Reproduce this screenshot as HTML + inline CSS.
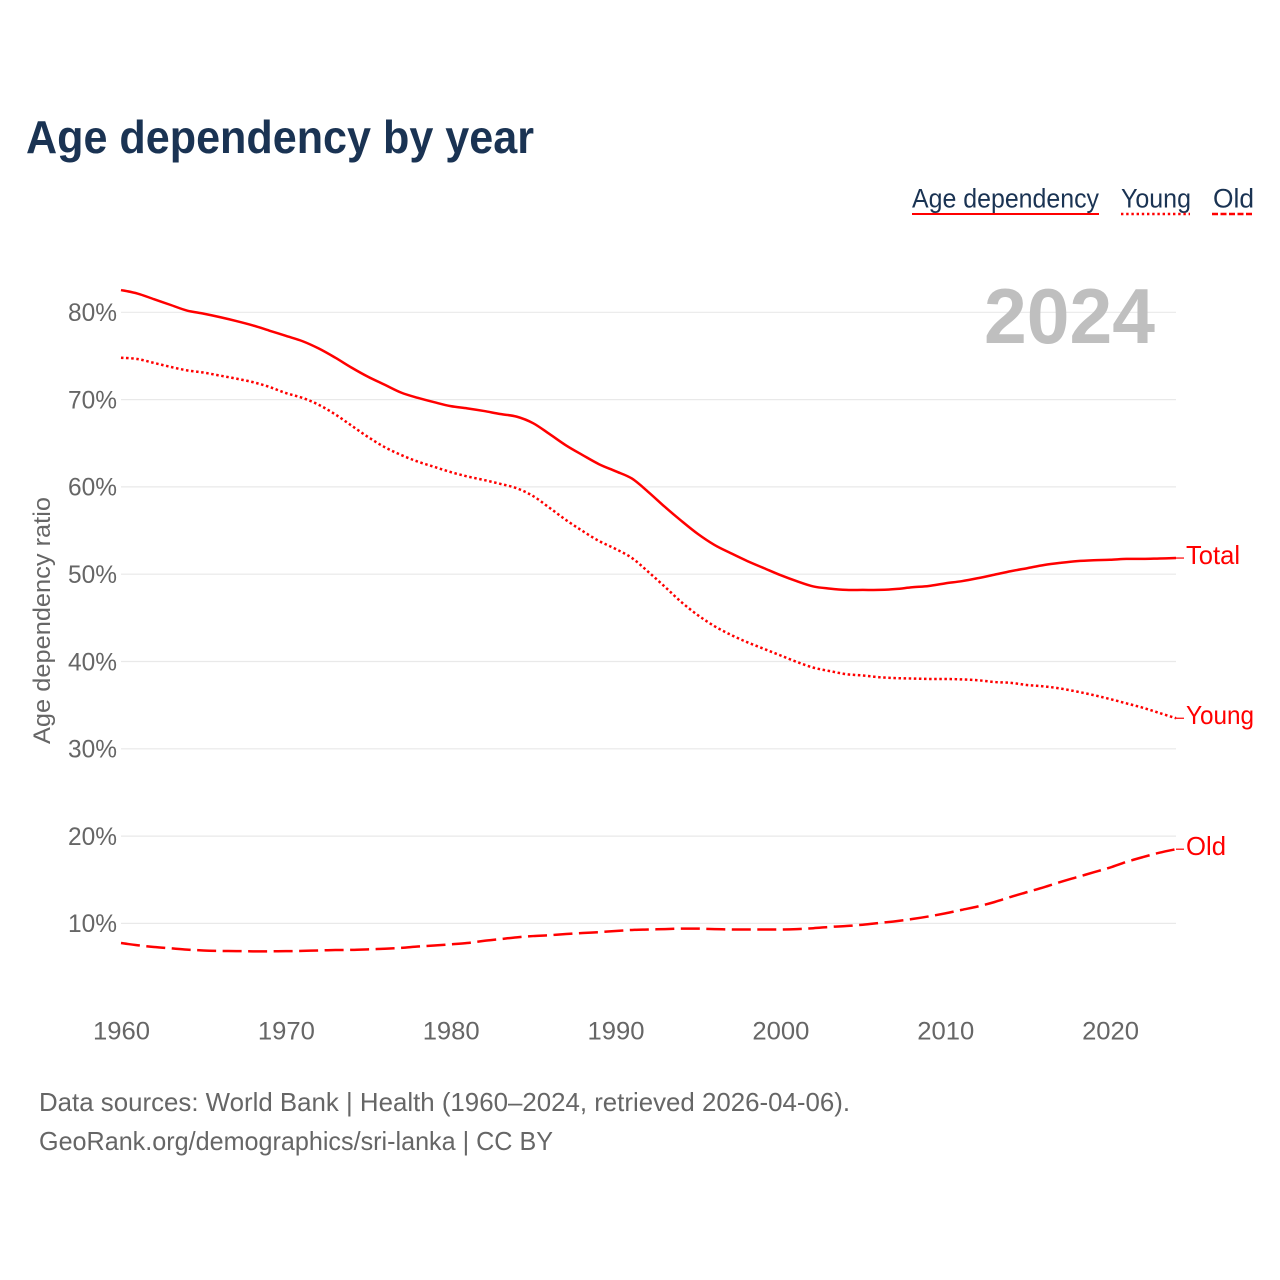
<!DOCTYPE html>
<html lang="en">
<head>
<meta charset="utf-8">
<title>Age dependency by year</title>
<style>
  html, body { margin: 0; padding: 0; background: #fff; }
  svg { display: block; font-family: "Liberation Sans", sans-serif; }
</style>
</head>
<body>
<svg id="chart" width="1280" height="1280" viewBox="0 0 1280 1280" xmlns="http://www.w3.org/2000/svg">
  <rect x="0" y="0" width="1280" height="1280" fill="#ffffff"/>
  <text x="26" y="153" font-size="46" font-weight="700" fill="#1a3353" textLength="508" lengthAdjust="spacingAndGlyphs">Age dependency by year</text>

  <g id="grid"></g>
  <text x="984" y="343" font-size="78" font-weight="700" fill="#bfbfbf" textLength="171" lengthAdjust="spacingAndGlyphs">2024</text>
  <g id="yticks"></g>
  <g id="xticks"></g>
  <text transform="translate(50,744) rotate(-90)" font-size="24" fill="#666666" textLength="247" lengthAdjust="spacingAndGlyphs">Age dependency ratio</text>
  <g id="series"></g>

  <g>
    <g>
      <text x="912" y="207.5" font-size="27" fill="#1a3353" textLength="187" lengthAdjust="spacingAndGlyphs">Age dependency</text>
      <line x1="912" x2="1099" y1="214" y2="214" stroke="#ff0000" stroke-width="2"/>
    </g>
    <g>
      <text x="1121" y="207.5" font-size="27" fill="#1a3353" textLength="70" lengthAdjust="spacingAndGlyphs">Young</text>
      <line x1="1121" x2="1190" y1="214" y2="214" stroke="#ff0000" stroke-width="2.4" stroke-dasharray="2.4,2.8"/>
    </g>
    <g>
      <text x="1213" y="207.5" font-size="27" fill="#1a3353" textLength="41" lengthAdjust="spacingAndGlyphs">Old</text>
      <line x1="1212" x2="1254" y1="214" y2="214" stroke="#ff0000" stroke-width="2.4" stroke-dasharray="6,2.5"/>
    </g>
  </g>

  <text x="39" y="1111" font-size="26" fill="#666666" textLength="811" lengthAdjust="spacingAndGlyphs">Data sources: World Bank | Health (1960–2024, retrieved 2026-04-06).</text>
  <text x="39" y="1150" font-size="26" fill="#666666" textLength="514" lengthAdjust="spacingAndGlyphs">GeoRank.org/demographics/sri-lanka | CC BY</text>
</svg>

<script>
const startYear = 1960;
const totalValues = [82.55,82.15,81.5,80.85,80.2,79.85,79.45,79.0,78.5,77.9,77.3,76.7,75.85,74.8,73.65,72.6,71.7,70.8,70.2,69.7,69.25,69.0,68.7,68.35,68.05,67.3,66.05,64.75,63.65,62.6,61.8,60.95,59.4,57.7,56.1,54.6,53.35,52.4,51.5,50.7,49.9,49.2,48.6,48.35,48.2,48.2,48.2,48.3,48.5,48.65,48.95,49.2,49.55,49.95,50.35,50.7,51.05,51.3,51.5,51.6,51.65,51.75,51.75,51.8,51.85];
const youngValues = [74.8,74.65,74.2,73.75,73.35,73.1,72.75,72.4,72.0,71.45,70.75,70.2,69.4,68.3,67.0,65.7,64.55,63.65,62.9,62.3,61.7,61.2,60.8,60.35,59.85,58.95,57.6,56.2,54.95,53.8,52.9,51.85,50.25,48.55,46.8,45.3,44.05,43.05,42.2,41.45,40.7,39.95,39.3,38.9,38.55,38.4,38.2,38.1,38.05,38.0,38.0,37.95,37.85,37.65,37.55,37.3,37.15,36.9,36.55,36.15,35.7,35.2,34.7,34.1,33.5];
const oldValues = [7.75,7.5,7.3,7.15,7.0,6.9,6.85,6.83,6.8,6.8,6.82,6.85,6.9,6.95,6.97,7.03,7.1,7.2,7.35,7.47,7.6,7.75,8.0,8.2,8.4,8.55,8.65,8.78,8.9,9.0,9.13,9.25,9.3,9.35,9.4,9.4,9.35,9.3,9.3,9.3,9.3,9.35,9.45,9.6,9.7,9.85,10.05,10.25,10.5,10.8,11.15,11.55,11.95,12.45,13.05,13.6,14.15,14.75,15.3,15.85,16.4,17.05,17.6,18.1,18.5];
const yTickValues = [10,20,30,40,50,60,70,80];
const xTickValues = [1960,1970,1980,1990,2000,2010,2020];
const seriesLabels = ["Total","Young","Old"];

const NS = "http://www.w3.org/2000/svg";
const xScale = year => 121 + (year - 1960) * (1176 - 121) / 64;
const yScale = value => 1010.7 - value * 8.73;

function make(tag, parent, attrs) {
  const el = document.createElementNS(NS, tag);
  for (const k in attrs) el.setAttribute(k, attrs[k]);
  parent.appendChild(el);
  return el;
}

const gridGroup = document.getElementById("grid");
const yTickGroup = document.getElementById("yticks");
const xTickGroup = document.getElementById("xticks");
const seriesGroup = document.getElementById("series");

yTickValues.forEach(v => {
  const y = yScale(v);
  const line = make("line", gridGroup, {x1: 121, x2: 1176, y1: y, y2: y, stroke: "#e9e9e9", "stroke-width": 1.2});
  
  
  const label = make("text", yTickGroup, {x: 68, y: y + 8.8, "font-size": 25, fill: "#666666", textLength: 49, lengthAdjust: "spacingAndGlyphs"});
  label.textContent = v + "%";
  
  
});

xTickValues.forEach(t => {
  const x = xScale(t);
  const label = make("text", xTickGroup, {x: x - 28, y: 1039.5, "font-size": 25, fill: "#666666", textLength: 57, lengthAdjust: "spacingAndGlyphs"});
  label.textContent = t;
  
  
});

// Smooth Catmull-Rom path through the yearly values.
function buildPath(values) {
  const pts = values.map((v, i) => [xScale(startYear + i), yScale(v)]);
  let d = "M" + pts[0][0].toFixed(2) + " " + pts[0][1].toFixed(2);
  for (let i = 0; i < pts.length - 1; i++) {
    const p0 = pts[Math.max(i - 1, 0)];
    const p1 = pts[i];
    const p2 = pts[i + 1];
    const p3 = pts[Math.min(i + 2, pts.length - 1)];
    const c1x = p1[0] + (p2[0] - p0[0]) / 6;
    const c1y = p1[1] + (p2[1] - p0[1]) / 6;
    const c2x = p2[0] - (p3[0] - p1[0]) / 6;
    const c2y = p2[1] - (p3[1] - p1[1]) / 6;
    d += " C" + c1x.toFixed(2) + " " + c1y.toFixed(2) + " " + c2x.toFixed(2) + " " + c2y.toFixed(2) + " " + p2[0].toFixed(2) + " " + p2[1].toFixed(2);
  }
  return d;
}

function drawLeader(values, labelIndex, labelWidth) {
  const last = values[values.length - 1];
  const y = yScale(last);
  const leader = make("line", seriesGroup, {x1: xScale(startYear + values.length - 1), x2: 1184, y1: y, y2: y, stroke: "#ff0000", "stroke-width": 1.2});
  
  
  const label = make("text", seriesGroup, {x: 1186, y: y + 6 , "font-size": 26, fill: "#ff0000", textLength: labelWidth, lengthAdjust: "spacingAndGlyphs"});
  label.textContent = seriesLabels[labelIndex];
  
  
}

const totalLine = make("path", seriesGroup, {d: buildPath(totalValues), fill: "none", stroke: "#ff0000", "stroke-width": 2.5, "stroke-linejoin": "round"});



const youngLine = make("path", seriesGroup, {d: buildPath(youngValues), fill: "none", stroke: "#ff0000", "stroke-width": 2.5, "stroke-dasharray": "2.5,2.6", "stroke-linejoin": "round"});



const oldLine = make("path", seriesGroup, {d: buildPath(oldValues), fill: "none", stroke: "#ff0000", "stroke-width": 2.5, "stroke-dasharray": "19,6.5", "stroke-linejoin": "round"});



drawLeader(totalValues, 0, 54);
drawLeader(youngValues, 1, 68);
drawLeader(oldValues, 2, 40);
</script>
</body>
</html>
